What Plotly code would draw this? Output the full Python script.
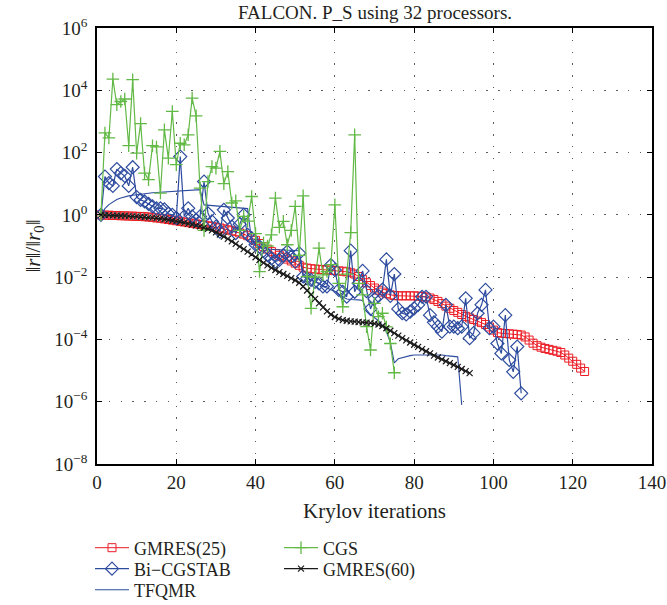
import plotly.graph_objects as go

# ---------------- data (log10 of ||r||/||r0||, one value per Krylov iteration, starting at 1) ----------------
gmres25_exp = [
    0.0, -0.01, -0.01, -0.02, -0.02, -0.03, -0.03, -0.04, -0.04, -0.05,
    -0.05, -0.06, -0.07, -0.08, -0.1, -0.11, -0.13, -0.15, -0.17, -0.19,
    -0.21, -0.23, -0.25, -0.27, -0.29, -0.31, -0.33, -0.35, -0.37, -0.4,
    -0.42, -0.45, -0.48, -0.51, -0.54, -0.58, -0.62, -0.67, -0.73, -0.82,
    -0.92, -1.02, -1.1, -1.18, -1.24, -1.3, -1.36, -1.42, -1.48, -1.55,
    -1.62, -1.68, -1.71, -1.73, -1.74, -1.75, -1.76, -1.77, -1.78, -1.79,
    -1.8, -1.81, -1.83, -1.86, -1.9, -1.98, -2.08, -2.18, -2.27, -2.35,
    -2.42, -2.48, -2.53, -2.57, -2.59, -2.6, -2.6, -2.6, -2.6, -2.6,
    -2.61, -2.62, -2.64, -2.67, -2.72, -2.78, -2.85, -2.93, -3.0, -3.07,
    -3.13, -3.2, -3.26, -3.31, -3.36, -3.41, -3.46, -3.52, -3.6, -3.7,
    -3.78, -3.8, -3.81, -3.82, -3.83, -3.84, -3.86, -3.92, -4.02, -4.12,
    -4.2, -4.25, -4.29, -4.32, -4.35, -4.38, -4.42, -4.5, -4.6, -4.7,
    -4.8, -4.92, -5.03,
]

bicgstab_exp = [
    0.0, 1.23, 1.02, 0.93, 1.47, 1.34, 1.25, 0.93, 1.53, 0.57,
    0.48, 0.43, 0.35, 0.27, 0.21, 0.21, 0.18, 0.03, 0.0, -0.1,
    1.87, -0.05, 0.21, -0.05, -0.16, -0.05, 1.07, 0.05, -0.21, -0.38,
    -0.54, 0.16, -0.1, -0.38, -0.59, -0.3, 0.0, -0.64, -0.75, -0.96,
    -1.02, -1.15, -1.29, -1.4, -1.5, -1.45, -1.3, -1.18, -1.35, -1.5,
    -1.23, -1.98, -2.04, -2.09, -2.15, -2.2, -2.3, -2.3, -1.61, -1.77,
    -2.41, -2.47, -2.63, -1.15, -2.47, -2.2, -1.8, -2.45, -3.02, -2.7,
    -2.6, -2.4, -1.43, -2.6, -1.9, -3.02, -3.16, -3.2, -3.11, -3.0,
    -2.89, -2.63, -2.63, -3.22, -3.45, -3.59, -3.75, -2.89, -3.59, -3.59,
    -3.64, -3.59, -2.68, -3.96, -3.8, -3.16, -2.89, -2.41, -3.64, -3.59,
    -4.13, -4.45, -3.22, -4.66, -5.04, -4.23, -5.73,
]

tfqmr_exp = [
    0.0, 0.2, 0.33, 0.42, 0.49, 0.54, 0.58, 0.61, 0.63, 0.65,
    0.67, 0.69, 0.7, 0.71, 0.72, 0.73, 0.74, 0.75, 0.76, 0.77,
    0.78, 0.79, 0.79, 0.8, 0.8, 0.81, 0.32, 0.31, 0.3, 0.29,
    0.28, 0.27, 0.26, 0.25, 0.24, 0.23, 0.22, 0.2, -0.85, -0.95,
    -1.05, -1.08, -1.1, -1.11, -1.12, -1.12, -1.13, -1.13, -1.14, -1.14,
    -1.15, -1.9, -2.0, -2.1, -2.15, -2.2, -2.3, -2.35, -2.4, -2.45,
    -2.55, -2.62, -2.7, -2.72, -2.72, -2.73, -2.75, -3.05, -3.2, -3.3,
    -3.4, -3.55, -3.75, -4.1, -4.75, -4.62, -4.58, -4.55, -4.52, -4.5,
    -4.5, -4.5, -4.48, -4.48, -4.5, -4.5, -4.5, -4.52, -4.53, -4.55,
    -4.56, -6.1,
]

cgs_exp = [
    0.0, 2.63, 2.47, 4.36, 3.54, 3.64, 3.72, 2.22, 4.34, 1.98,
    2.93, 1.34, 1.13, 2.22, 2.18, 0.7, 2.73, 1.82, 3.32, 1.61,
    2.3, 2.25, 2.57, 3.75, 3.18, 0.86, -0.5, 1.07, 1.55, 1.5,
    2.04, 1.0, 1.39, 0.38, 0.45, -0.5, -0.05, -0.2, 0.59, -0.6,
    -1.82, -0.9, -1.0, -0.64, 0.54, -0.4, -0.21, -0.96, -0.5, 0.27,
    -1.3, 0.61, -1.98, -3.0, -2.0, -1.07, -1.93, -1.82, -1.6, 0.32,
    -2.2, -2.95, -1.9, -0.57, 2.57, -2.2, -2.57, -3.59, -4.34, -2.84,
    -3.27, -3.16, -3.6, -4.13, -5.07,
]

gmres60_exp = [
    0.0, -0.01, -0.01, -0.02, -0.02, -0.03, -0.03, -0.04, -0.05, -0.05,
    -0.06, -0.07, -0.08, -0.09, -0.1, -0.12, -0.14, -0.16, -0.18, -0.2,
    -0.22, -0.25, -0.28, -0.31, -0.34, -0.37, -0.41, -0.45, -0.5, -0.56,
    -0.63, -0.7, -0.77, -0.85, -0.93, -1.02, -1.1, -1.18, -1.27, -1.36,
    -1.45, -1.54, -1.62, -1.7, -1.77, -1.84, -1.9, -1.96, -2.03, -2.1,
    -2.18, -2.3, -2.43, -2.56, -2.7, -2.84, -2.97, -3.1, -3.2, -3.28,
    -3.34, -3.38, -3.4, -3.42, -3.43, -3.44, -3.45, -3.46, -3.47, -3.49,
    -3.52, -3.57, -3.64, -3.72, -3.8, -3.88, -3.96, -4.03, -4.1, -4.17,
    -4.24, -4.31, -4.38, -4.45, -4.52, -4.58, -4.64, -4.7, -4.76, -4.82,
    -4.88, -4.95, -5.02, -5.08,
]

x_tick_vals = [0, 20, 40, 60, 80, 100, 120, 140]
y_tick_exps = [-8, -6, -4, -2, 0, 2, 4, 6]
y_tick_text = ["10<sup>" + (str(e) if e >= 0 else "\u2212" + str(-e)) + "</sup>" for e in y_tick_exps]

title_text = "FALCON. P_S using 32 processors."
x_title = "Krylov iterations"
y_title = "\u2016<i>r</i>\u2016/\u2016<i>r</i><sub>0</sub>\u2016"

# ---------------- styling ----------------
FONT = "Liberation Serif, Times New Roman, serif"
TXT = "#231f20"
RED = "#ec1c24"
BLUE = "#2e4c9f"
GREEN = "#62b946"
BLACK = "#1a1a1a"


def iters(vals):
    return list(range(1, len(vals) + 1))


def pw(vals):
    return [10 ** v for v in vals]


fig = go.Figure()

fig.add_trace(go.Scatter(
    x=iters(gmres25_exp), y=pw(gmres25_exp), name="GMRES(25)", mode="lines+markers",
    line=dict(color=RED, width=1),
    marker=dict(symbol="square-open", size=8, color=RED, line=dict(width=1, color=RED)),
    legend="legend",
))
fig.add_trace(go.Scatter(
    x=iters(bicgstab_exp), y=pw(bicgstab_exp), name="Bi\u2212CGSTAB", mode="lines+markers",
    line=dict(color=BLUE, width=1.2),
    marker=dict(symbol="diamond-open", size=10, color=BLUE, line=dict(width=1.2, color=BLUE)),
    legend="legend2",
))
fig.add_trace(go.Scatter(
    x=iters(tfqmr_exp), y=pw(tfqmr_exp), name="TFQMR", mode="lines",
    line=dict(color=BLUE, width=1.1),
    legend="legend3",
))
fig.add_trace(go.Scatter(
    x=iters(cgs_exp), y=pw(cgs_exp), name="CGS", mode="lines+markers",
    line=dict(color=GREEN, width=1.2),
    marker=dict(symbol="cross-thin-open", size=9, color=GREEN, line=dict(width=1.3, color=GREEN)),
    legend="legend4",
))
fig.add_trace(go.Scatter(
    x=iters(gmres60_exp), y=pw(gmres60_exp), name="GMRES(60)", mode="lines+markers",
    line=dict(color=BLACK, width=1.2),
    marker=dict(symbol="x-thin-open", size=6, color=BLACK, line=dict(width=1.2, color=BLACK)),
    legend="legend5",
))

L, R, T, B = 97, 15, 28, 141
W, H = 667, 605
PH = H - T - B
PW = W - L - R


def px_to_paper_x(px):
    return (px - L) / PW


def py_to_paper_y(py):
    return (H - B - py) / PH


def leg(px, py):
    return dict(
        x=px_to_paper_x(px), y=py_to_paper_y(py), xanchor="left", yanchor="middle",
        bgcolor="rgba(0,0,0,0)", borderwidth=0, itemwidth=34,
        font=dict(family=FONT, size=18, color=TXT), orientation="v",
        itemclick=False, itemdoubleclick=False,
    )


axis_common = dict(
    showline=True, linecolor="#000000", linewidth=1.6, mirror="ticks",
    ticks="inside", ticklen=5, tickwidth=1, tickcolor="#000000",
    showgrid=True, gridcolor="#5a5a5a", gridwidth=1.3, griddash="1.3px,10.5px",
    zeroline=False, tickfont=dict(family=FONT, size=19, color=TXT),
)

fig.update_layout(
    width=W, height=H,
    margin=dict(l=L, r=R, t=T, b=B, autoexpand=False),
    paper_bgcolor="white", plot_bgcolor="white",
    font=dict(family=FONT, color=TXT, size=19),
    title=dict(text=title_text, x=375 / W, xanchor="center",
               y=1 - 12 / H, yanchor="middle", font=dict(family=FONT, size=19, color=TXT)),
    xaxis=dict(range=[0, 140], tickvals=x_tick_vals, ticktext=[str(v) for v in x_tick_vals],
               title=dict(text=x_title, standoff=12, font=dict(family=FONT, size=21, color=TXT)),
               **axis_common),
    yaxis=dict(type="log", range=[-8, 6], tickvals=[10 ** e for e in y_tick_exps], ticktext=y_tick_text,
               ticklabelstandoff=4,
               title=dict(text=y_title, standoff=8, font=dict(family=FONT, size=21, color=TXT)),
               **axis_common),
    showlegend=True,
    legend=leg(90, 548),
    legend2=leg(90, 569),
    legend3=leg(90, 590),
    legend4=leg(279, 548),
    legend5=leg(279, 569),
)

fig.write_html("out.html")
